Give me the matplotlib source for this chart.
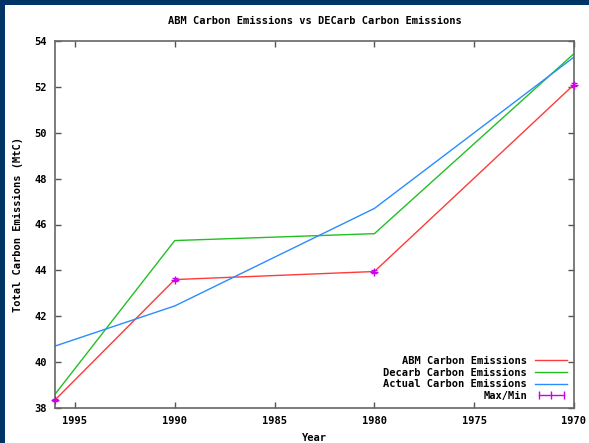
import matplotlib.pyplot as plt
from matplotlib.patches import Rectangle
from matplotlib.lines import Line2D
from matplotlib.legend_handler import HandlerLine2D

#---datos---#
anios = [1996, 1990, 1980, 1970]
abm = [38.35, 43.6, 43.95, 52.1]
decarb = [38.6, 45.3, 45.6, 53.45]
actual = [40.7, 42.45, 46.7, 53.3]
err_abm = [0.06, 0.06, 0.06, 0.06]

xticks = [1995, 1990, 1985, 1980, 1975, 1970]
yticks = [38, 40, 42, 44, 46, 48, 50, 52, 54]

fuente = 'DejaVu Sans Mono'
plt.rcParams['font.family'] = fuente
plt.rcParams['font.weight'] = 'bold'
magenta = '#cc00ee'

fig = plt.figure(figsize=(5.89, 4.43), dpi=100, facecolor='#003366')
# fondo blanco con borde azul arriba y a la izquierda
fig.patches.append(Rectangle((5 / 589, 0), 1, 1 - 5 / 443, transform=fig.transFigure,
                             facecolor='white', edgecolor='none', zorder=-10))

ax = fig.add_axes([55 / 589, 1 - 408 / 443, (574 - 55) / 589, (408 - 41) / 443])
l1, = ax.plot(anios, abm, color='#ff3a3a', lw=1, label='ABM Carbon Emissions')
l2, = ax.plot(anios, decarb, color='#22c022', lw=1, label='Decarb Carbon Emissions')
l3, = ax.plot(anios, actual, color='#2a8cff', lw=1, label='Actual Carbon Emissions')
ax.errorbar(anios, abm, yerr=err_abm, fmt='+', color=magenta, ms=6, mew=1,
            elinewidth=1, capsize=2, clip_on=False, zorder=5)

ax.set_xlim(1996, 1970)
ax.set_ylim(38, 54)
ax.set_xticks(xticks)
ax.set_yticks(yticks)
ax.tick_params(direction='in', length=4, width=1, color='#555555', labelsize=7.5,
               top=True, right=True, pad=6)
for s in ax.spines.values():
    s.set_color('#666666')
    s.set_linewidth(1.2)

#-----------------------
ax.set_title('ABM Carbon Emissions vs DECarb Carbon Emissions', fontsize=7.5,
             fontweight='bold', pad=12)
ax.set_xlabel('Year', fontsize=7.5, fontweight='bold', labelpad=5)
ax.set_ylabel('Total Carbon Emissions (MtC)', fontsize=7.5, fontweight='bold', labelpad=8)

# clave estilo gnuplot para las barras de error
h_err = Line2D([], [], color=magenta, lw=1, marker='|', ms=6, mew=1)
ax.legend([l1, l2, l3, h_err],
          ['ABM Carbon Emissions', 'Decarb Carbon Emissions',
           'Actual Carbon Emissions', 'Max/Min'],
          handler_map={h_err: HandlerLine2D(numpoints=3)},
          loc='lower right', markerfirst=False, frameon=False, fontsize=7.5,
          handlelength=3, labelspacing=0.15, borderaxespad=0.3, handletextpad=0.8)

plt.savefig('out.png', dpi=100, facecolor=fig.get_facecolor())
